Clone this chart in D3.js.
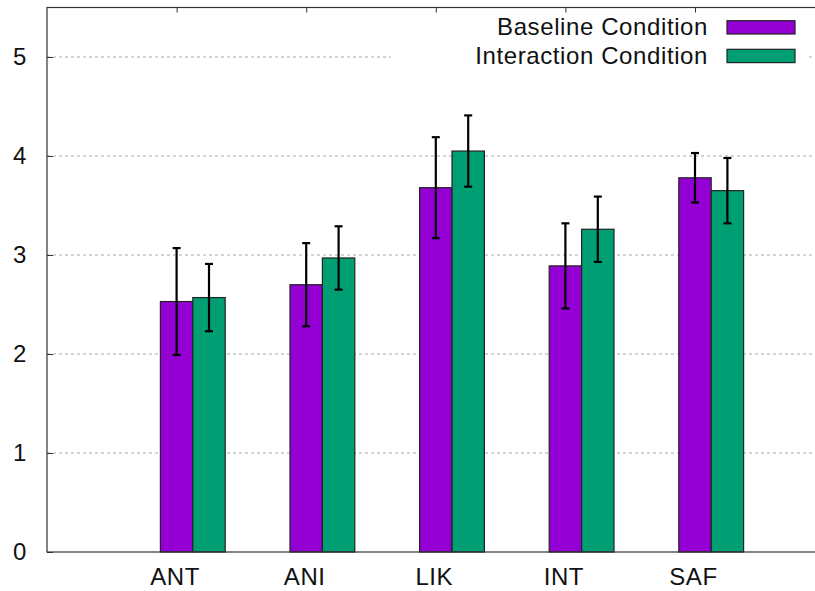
<!DOCTYPE html>
<html>
<head>
<meta charset="utf-8">
<script src="https://cdn.jsdelivr.net/npm/d3@7"></script>
<style>
	body { margin: 0; background: #fff; }
	svg { display: block; font-family: "Liberation Sans", Arial, Helvetica, sans-serif; }
</style>
</head>
<body>
<div id="chart"></div>
<script>
const categories = ["ANT", "ANI", "LIK", "INT", "SAF"]
const baseline = [2.53, 2.70, 3.68, 2.89, 3.78]
const baselineErr = [0.54, 0.42, 0.51, 0.43, 0.25]
const interaction = [2.57, 2.97, 4.05, 3.26, 3.65]
const interactionErr = [0.34, 0.32, 0.36, 0.33, 0.33]
const seriesNames = ["Baseline Condition", "Interaction Condition"]
const yTicks = [0, 1, 2, 3, 4, 5]

const width = 815, height = 591
const color = ["#9400d3", "#009e73"]

const svg = d3.select("#chart").append("svg")
	.attr("width", width)
	.attr("height", height)

// x: clusters at 0..4, each bar 1/4 unit wide
const x = d3.scaleLinear().domain([-1, 5]).range([47, 824.6])
const y = d3.scaleLinear().domain([0, 5.5]).range([552, 7.5])
const bw = x(0.25) - x(0)

// grid
svg.append("g")
	.selectAll("line")
	.data(yTicks.filter(d => d > 0))
	.join("line")
	.attr("x1", x(-1)).attr("x2", x(5))
	.attr("y1", d => y(d)).attr("y2", d => y(d))
	.attr("stroke", "#a8a8a8")
	.attr("stroke-width", 1)
	.attr("stroke-dasharray", "3,3")

// key area is opaque
svg.append("rect")
	.attr("x", 391).attr("y", 12)
	.attr("width", 418).attr("height", 56)
	.attr("fill", "#fff")

const rows = categories.map((c, i) => ({
	cat: c, i: i,
	vals: [
		{ s: 0, v: baseline[i], e: baselineErr[i] },
		{ s: 1, v: interaction[i], e: interactionErr[i] }
	]
}))

const groups = svg.append("g")
	.selectAll("g")
	.data(rows)
	.join("g")

// bars
groups.selectAll("rect")
	.data(d => d.vals.map(v => ({ ...v, i: d.i })))
	.join("rect")
	.attr("x", d => x(d.i - 0.125 + d.s * 0.25))
	.attr("y", d => y(d.v))
	.attr("width", bw)
	.attr("height", d => y(0) - y(d.v))
	.attr("fill", d => color[d.s])
	.attr("stroke", "#222")
	.attr("stroke-width", 1.2)

// error bars
const err = groups.selectAll("g.err")
	.data(d => d.vals.map(v => ({ ...v, i: d.i })))
	.join("g")
	.attr("class", "err")
	.attr("stroke", "#000")
	.attr("stroke-width", 2.2)

err.append("line")
	.attr("x1", d => x(d.i + d.s * 0.25)).attr("x2", d => x(d.i + d.s * 0.25))
	.attr("y1", d => y(d.v - d.e)).attr("y2", d => y(d.v + d.e))
err.append("line")
	.attr("x1", d => x(d.i + d.s * 0.25) - 4).attr("x2", d => x(d.i + d.s * 0.25) + 4)
	.attr("y1", d => y(d.v + d.e)).attr("y2", d => y(d.v + d.e))
err.append("line")
	.attr("x1", d => x(d.i + d.s * 0.25) - 4).attr("x2", d => x(d.i + d.s * 0.25) + 4)
	.attr("y1", d => y(d.v - d.e)).attr("y2", d => y(d.v - d.e))

// axes (ticks point inward like gnuplot)
const yAxis = svg.append("g")
	.attr("transform", "translate(" + x(-1) + ",0)")
	.call(d3.axisLeft(y).tickValues(yTicks).tickFormat(d3.format("d")).tickSize(-6).tickPadding(20))
yAxis.select(".domain").remove()

svg.append("g")
	.attr("transform", "translate(" + x(5) + ",0)")
	.call(d3.axisRight(y).tickValues(yTicks).tickFormat("").tickSize(-6))
	.select(".domain").remove()

svg.append("g")
	.attr("transform", "translate(0," + y(5.5) + ")")
	.call(d3.axisTop(x).tickValues(d3.range(categories.length)).tickFormat("").tickSize(-5))
	.select(".domain").remove()

const xAxis = svg.append("g")
	.attr("transform", "translate(-2," + y(0) + ")")
	.call(d3.axisBottom(x).tickValues(d3.range(categories.length)).tickFormat(i => categories[i]).tickSize(0).tickPadding(16))
xAxis.select(".domain").remove()

svg.selectAll(".tick line").attr("stroke", "#333")
svg.selectAll(".tick text")
	.attr("font-size", "24px")
	.attr("letter-spacing", "0.6px")
	.attr("font-family", "Liberation Sans, Arial, sans-serif")
	.attr("fill", "#111")

// border
svg.append("rect")
	.attr("x", x(-1)).attr("y", y(5.5))
	.attr("width", x(5) - x(-1)).attr("height", y(0) - y(5.5))
	.attr("fill", "none")
	.attr("stroke", "#333")
	.attr("stroke-width", 1.2)

// legend
const legend = svg.append("g")
	.selectAll("g")
	.data(seriesNames)
	.join("g")
	.attr("transform", (d, i) => "translate(0," + (i * 28.6) + ")")

legend.append("text")
	.attr("x", 708).attr("y", 35)
	.attr("text-anchor", "end")
	.attr("font-size", "24px")
	.attr("letter-spacing", "0.6px")
	.attr("fill", "#111")
	.text(d => d)

legend.append("rect")
	.attr("x", 727).attr("y", 20.7)
	.attr("width", 68).attr("height", 13.3)
	.attr("fill", (d, i) => color[i])
	.attr("stroke", "#222")
	.attr("stroke-width", 1.2)
</script>
</body>
</html>
